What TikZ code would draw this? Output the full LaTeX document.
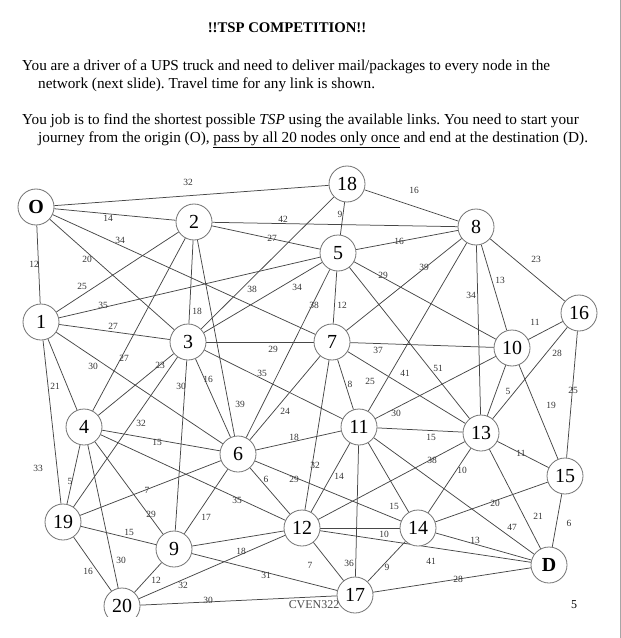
\documentclass[tikz,border=0pt]{standalone}
\usepackage{fontspec}
\setmainfont{Liberation Serif}
\usetikzlibrary{backgrounds}
\begin{document}
\frenchspacing
\begin{tikzpicture}[x=1bp,y=-1bp,
  nd/.style={circle, draw=black!55, fill=white, line width=0.8bp, minimum size=36bp, inner sep=0pt, font=\fontsize{20}{20}\selectfont},
  ed/.style={draw=black!72, line width=0.75bp},
  lb/.style={font=\fontsize{9.5}{10}\selectfont, text=black!80, inner sep=0pt},
  hd/.style={font=\fontsize{15.3}{17}\selectfont, inner sep=0pt, anchor=base west}]
\useasboundingbox (0,0) rectangle (621,638);
% header
\node[font=\fontsize{14.8}{17}\selectfont\bfseries, inner sep=0pt, anchor=base] (title) at (287,33) {!!TSP COMPETITION!!};
\node[hd] (h1) at (22,71) {You are a driver of a UPS truck and need to deliver mail/packages to every node in the};
\node[hd] (h2) at (38,89) {network (next slide). Travel time for any link is shown.};
\node[hd] (h3) at (22,125) {You job is to find the shortest possible \textit{TSP} using the available links. You need to start your};
\node[hd] (h4) at (38,143) {journey from the origin (O), \underline{pass by all 20 nodes only once} and end at the destination (D).};
% nodes
\node[nd, font=\fontsize{20}{20}\selectfont\bfseries] (O) at (36,207) {O};
\node[nd] (n1) at (41,322) {1};
\node[nd] (n2) at (194,222) {2};
\node[nd] (n3) at (188,342) {3};
\node[nd] (n4) at (84,427) {4};
\node[nd] (n5) at (338,253) {5};
\node[nd] (n6) at (238,454) {6};
\node[nd] (n7) at (332,342) {7};
\node[nd] (n8) at (476,227) {8};
\node[nd] (n9) at (174,549) {9};
\node[nd] (n10) at (512,348) {10};
\node[nd] (n11) at (359,427) {11};
\node[nd] (n12) at (302,528) {12};
\node[nd] (n13) at (481,433) {13};
\node[nd] (n14) at (418,528) {14};
\node[nd] (n15) at (565,476) {15};
\node[nd] (n16) at (579,313) {16};
\node[nd] (n17) at (355,595) {17};
\node[nd] (n18) at (347,184) {18};
\node[nd] (n19) at (63,522) {19};
\node[nd] (n20) at (122,606) {20};
\node[nd, font=\fontsize{20}{20}\selectfont\bfseries] (D) at (549,565) {D};
\begin{pgfonlayer}{background}
\foreach \a/\b/\t/\x/\y in {
 O/n18/32/188/182, O/n2/14/108/218, O/n7/34/120/240, O/n3/20/87/259, O/n1/12/34/264,
 n1/n2/25/82/286, n1/n5/35/103/305, n1/n3/27/113/326, n1/n6/30/93/366, n1/n4/21/55/386, n1/n19/33/38/468,
 n2/n8/42/283/219, n2/n5/27/272/238, n2/n3/18/197/311, n2/n4/27/124/358, n2/n6/39/240/404,
 n18/n8/16/414/190, n18/n5/9/340/214, n18/n3/38/252/289,
 n5/n3/34/297/287, n5/n7/12/342/305, n5/n8/16/399/241, n5/n10/29/383/275, n5/n6/38/314/305, n5/n13/51/438/368,
 n7/n3/29/273/349, n7/n8/39/424/267, n7/n10/37/378/350, n7/n11/8/350/384, n7/n13/25/370/381, n7/n12/32/315/465, n7/n6/24/285/411,
 n8/n16/23/536/259, n8/n10/13/500/280, n8/n13/34/471/295, n8/n11/41/405/373,
 n10/n16/11/535/322, n10/n13/5/508/391, n10/n15/19/551/405, n10/n11/30/396/413,
 n16/n13/28/557/353, n16/n15/25/573/390,
 n13/n15/11/521/453, n13/n11/15/431/437, n13/n14/10/462/470, n13/n12/38/432/460, n13/D/21/538/516,
 n11/D/47/512/527, n15/n14/20/495/503, n15/D/6/569/523, n14/D/13/475/540, n12/D/41/431/561, n17/D/28/458/579,
 n17/n14/9/387/567, n17/n12/7/310/565, n17/n11/36/349/563, n9/n17/31/266/575, n20/n17/30/208/600,
 n20/n12/32/183/585, n9/n12/18/241/551, n9/n20/12/156/580, n19/n9/15/129/532, n9/n3/30/181/386,
 n9/n4/29/151/514, n9/n6/17/206/517,
 n6/n3/16/208/379, n6/n11/18/294/437, n6/n12/6/266/479, n6/n14/29/294/479, n6/n4/15/157/442, n6/n19/7/147/490,
 n3/n11/35/262/373, n3/n4/23/160/365, n3/n19/32/141/423,
 n11/n14/15/394/506, n11/n12/14/339/476, n12/n14/10/384/534, n4/n12/35/237/500,
 n4/n20/30/121/560, n19/n4/5/70/481, n19/n20/16/88/571}
 {\draw[ed] (\a) -- (\b);
  \node[lb] (lab-\a-\b) at (\x,\y) {\t};}
\end{pgfonlayer}
% cut-off bottom of node 20 as on the slide
\fill[white] (100,616.5) rectangle (146,634);
\node[font=\fontsize{12}{12}\selectfont, text=black!70, inner sep=0pt] (cven) at (314,605) {CVEN322};
\node[font=\fontsize{12}{12}\selectfont, inner sep=0pt] (pg) at (574,605) {5};
\draw[black!35, line width=0.8bp] (620.4,0) -- (620.4,638);
\end{tikzpicture}
\end{document}
